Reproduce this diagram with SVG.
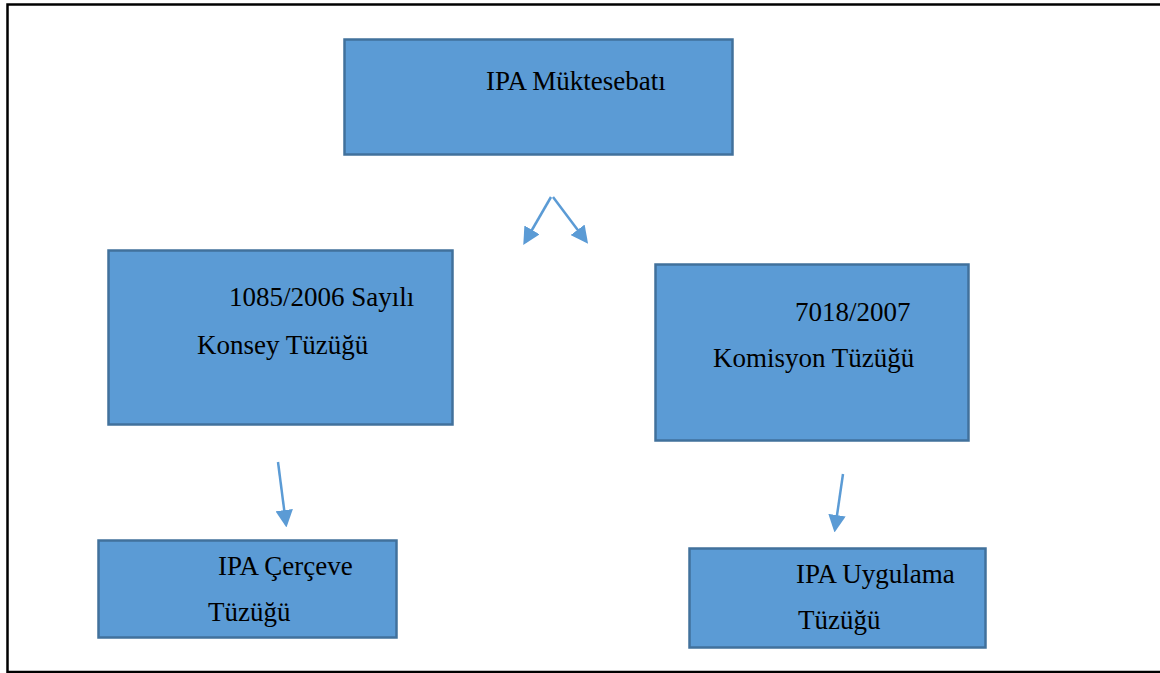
<svg xmlns="http://www.w3.org/2000/svg" width="1160" height="673" viewBox="0 0 1160 673">
<style>
.box{fill:#5b9bd5;stroke:#41719c;stroke-width:2.5}
.t{font-family:"Liberation Serif","Times New Roman",serif;font-size:27px;fill:#000}
.c{stroke:#5b9bd5;stroke-width:2.5;fill:none;marker-end:url(#ah)}
</style>
<defs>
<marker id="ah" viewBox="0 0 10 10" refX="8" refY="5" markerWidth="7" markerHeight="7" markerUnits="strokeWidth" orient="auto">
<path d="M0,0 L10,5 L0,10 Z" fill="#5b9bd5"/>
</marker>
</defs>
<rect width="1160" height="673" fill="#fff"/>
<path d="M1160,4.5 H7.5 V672 H1160" fill="none" stroke="#000" stroke-width="2.5"/>
<g id="n1"><rect class="box" x="344.5" y="39.5" width="388" height="115"/><text class="t" x="486" y="90">IPA Müktesebatı</text></g>
<g id="n2"><rect class="box" x="108.5" y="250.5" width="344" height="174"/><text class="t" x="229" y="306">1085/2006 Sayılı</text><text class="t" x="197" y="354">Konsey Tüzüğü</text></g>
<g id="n3"><rect class="box" x="655.5" y="264.5" width="313" height="176"/><text class="t" x="795" y="321">7018/2007</text><text class="t" x="713" y="367">Komisyon Tüzüğü</text></g>
<g id="n4"><rect class="box" x="98.5" y="540.5" width="298" height="97"/><text class="t" x="218" y="575">IPA Çerçeve</text><text class="t" x="208" y="621">Tüzüğü</text></g>
<g id="n5"><rect class="box" x="689.5" y="548.5" width="296" height="99"/><text class="t" x="796" y="583">IPA Uygulama</text><text class="t" x="798" y="629">Tüzüğü</text></g>
<g id="connectors">
<path class="c" d="M551,197 L525,242"/>
<path class="c" d="M553,197 L586,241"/>
<path class="c" d="M278,462 L286,524"/>
<path class="c" d="M843,474 L835,529"/>
</g>
</svg>
